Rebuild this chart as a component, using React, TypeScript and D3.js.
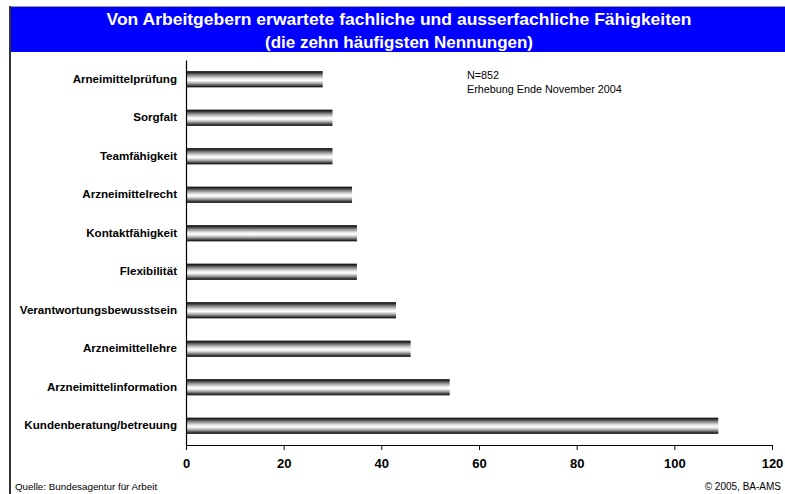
import React, { useRef, useEffect } from 'react';
import * as d3 from 'd3';

// Categories top to bottom
const categories = [
  'Arneimittelprüfung',
  'Sorgfalt',
  'Teamfähigkeit',
  'Arzneimittelrecht',
  'Kontaktfähigkeit',
  'Flexibilität',
  'Verantwortungsbewusstsein',
  'Arzneimittellehre',
  'Arzneimittelinformation',
  'Kundenberatung/betreuung',
];
const values = [28, 30, 30, 34, 35, 35, 43, 46, 54, 109];
const xTicks = [0, 20, 40, 60, 80, 100, 120];

const titleLines = [
  'Von Arbeitgebern erwartete fachliche und ausserfachliche Fähigkeiten',
  '(die zehn häufigsten Nennungen)',
];
const noteLines = ['N=852', 'Erhebung Ende November 2004'];
const sourceText = 'Quelle: Bundesagentur für Arbeit';
const copyrightText = '© 2005, BA-AMS';

const W = 785;
const H = 494;
const FONT = 'Arial, "Liberation Sans", Helvetica, sans-serif';

const App = () => {
  const svgRef = useRef<SVGSVGElement>(null);

  useEffect(() => {
    const svg = d3.select(svgRef.current);
    svg.selectAll('*').remove();

    const margin = { top: 60, right: 13, bottom: 49, left: 186 };
    const innerWidth = W - margin.left - margin.right;
    const innerHeight = H - margin.top - margin.bottom;

    // bar shading: dark edges, light middle
    const defs = svg.append('defs');
    const grad = defs.append('linearGradient')
      .attr('id', 'barGrad')
      .attr('x1', 0).attr('y1', 0).attr('x2', 0).attr('y2', 1);
    [
      [0, '#000'], [0.1, '#333'], [0.25, '#888'], [0.45, '#e8e8e8'],
      [0.58, '#fff'], [0.75, '#aaa'], [0.9, '#444'], [1, '#000'],
    ].forEach(([o, c]) => grad.append('stop').attr('offset', o as number).attr('stop-color', c as string));

    // title box
    svg.append('rect')
      .attr('x', 11).attr('y', 7).attr('width', W - 11).attr('height', 45)
      .attr('fill', '#0000ff');
    svg.append('line')
      .attr('x1', 9).attr('x2', W).attr('y1', 6.5).attr('y2', 6.5)
      .attr('stroke', '#999').attr('stroke-width', 1);
    svg.append('line')
      .attr('x1', 10).attr('x2', 10).attr('y1', 6).attr('y2', H)
      .attr('stroke', '#333').attr('stroke-width', 2);

    const titleWidths = [585, 268];
    titleLines.forEach((t, i) => {
      svg.append('text')
        .attr('x', 399)
        .attr('y', 25 + i * 23)
        .attr('text-anchor', 'middle')
        .attr('textLength', titleWidths[i])
        .attr('lengthAdjust', 'spacingAndGlyphs')
        .style('fill', '#fff')
        .style('font-family', '"Liberation Sans Narrow", "Arial Narrow", ' + FONT)
        .style('font-weight', 'bold')
        .style('font-size', '17px')
        .text(t);
    });

    const g = svg.append('g')
      .attr('transform', `translate(${margin.left},${margin.top})`);

    const x = d3.scaleLinear().domain([0, 120]).range([0, innerWidth]);
    const y = d3.scaleBand().domain(categories).range([0, innerHeight]).paddingInner(0.58).paddingOuter(0.29);

    g.selectAll('.bar')
      .data(values)
      .enter().append('rect')
      .attr('class', 'bar')
      .attr('x', 0)
      .attr('y', (d, i) => y(categories[i])!)
      .attr('width', d => x(d))
      .attr('height', y.bandwidth())
      .attr('fill', 'url(#barGrad)');

    // axes
    const xAxis = g.append('g')
      .attr('transform', `translate(0,${innerHeight})`)
      .call(d3.axisBottom(x).tickValues(xTicks).tickSize(5).tickPadding(9).tickSizeOuter(0));
    xAxis.select('.domain').attr('stroke', '#000').attr('stroke-width', 1.2);
    xAxis.selectAll('line').attr('stroke', '#000');
    xAxis.selectAll('text')
      .style('fill', '#000')
      .style('font-size', '13px')
      .style('font-weight', 'bold')
      .style('font-family', FONT);

    const yAxis = g.append('g')
      .call(d3.axisLeft(y).tickSize(0).tickPadding(9));
    yAxis.select('.domain').attr('stroke', '#000').attr('stroke-width', 1.2);
    yAxis.selectAll('text')
      .style('fill', '#000')
      .style('font-size', '11.6px')
      .style('font-weight', 'bold')
      .style('font-family', FONT);

    // note
    noteLines.forEach((t, i) => {
      svg.append('text')
        .attr('x', 467)
        .attr('y', 79 + i * 14)
        .style('font-size', '10.8px')
        .style('font-family', FONT)
        .style('fill', '#000')
        .text(t);
    });

    // footer
    svg.append('text')
      .attr('x', 15).attr('y', 490)
      .style('font-size', '9.8px').style('font-family', FONT)
      .text(sourceText);
    svg.append('text')
      .attr('x', 781).attr('y', 490)
      .attr('text-anchor', 'end')
      .style('font-size', '10px').style('font-family', FONT)
      .text(copyrightText);
  }, []);

  return (
    <svg
      ref={svgRef}
      width={W}
      height={H}
      style={{ position: 'absolute', left: 0, top: 0, background: '#fff' }}
    />
  );
};

export default App;
